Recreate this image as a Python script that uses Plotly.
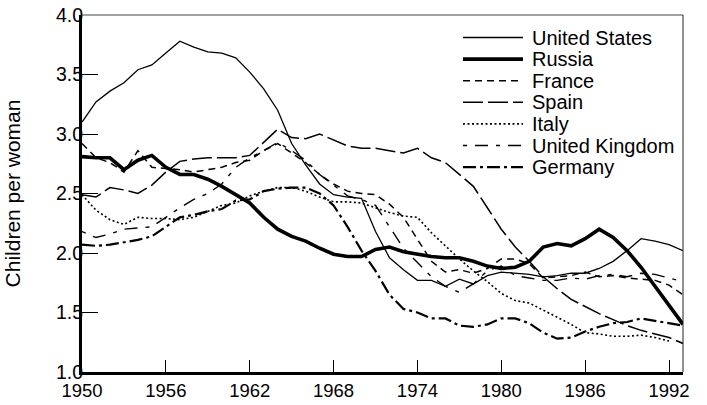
import plotly.graph_objects as go

years = list(range(1950, 1994))

united_states = [3.10, 3.27, 3.36, 3.43, 3.54, 3.58, 3.68, 3.78, 3.73, 3.69,
                 3.68, 3.64, 3.52, 3.38, 3.20, 2.92, 2.74, 2.58, 2.49, 2.47,
                 2.46, 2.18, 1.96, 1.86, 1.77, 1.77, 1.72, 1.78, 1.74, 1.81,
                 1.84, 1.83, 1.82, 1.80, 1.81, 1.83, 1.83, 1.87, 1.93, 2.02,
                 2.12, 2.10, 2.07, 2.02]
russia = [2.81, 2.80, 2.80, 2.70, 2.78, 2.82, 2.72, 2.66, 2.66, 2.62,
          2.56, 2.49, 2.42, 2.30, 2.20, 2.14, 2.10, 2.04, 1.99, 1.97,
          1.97, 2.03, 2.05, 2.01, 1.99, 1.97, 1.96, 1.96, 1.93, 1.89,
          1.87, 1.88, 1.93, 2.05, 2.08, 2.06, 2.12, 2.20, 2.13, 2.02,
          1.88, 1.72, 1.56, 1.40]
france = [2.92, 2.80, 2.76, 2.68, 2.86, 2.72, 2.71, 2.70, 2.68, 2.70,
          2.72, 2.76, 2.78, 2.86, 2.92, 2.84, 2.76, 2.66, 2.58, 2.52,
          2.50, 2.49, 2.41, 2.30, 2.11, 1.93, 1.84, 1.86, 1.83, 1.87,
          1.95, 1.95, 1.91, 1.79, 1.80, 1.81, 1.84, 1.80, 1.81, 1.79,
          1.78, 1.77, 1.73, 1.65]
spain = [2.49, 2.47, 2.55, 2.53, 2.50, 2.57, 2.68, 2.77, 2.79, 2.80,
         2.80, 2.80, 2.82, 2.93, 3.04, 2.97, 2.96, 3.00, 2.95, 2.90,
         2.88, 2.88, 2.86, 2.84, 2.88, 2.80, 2.76, 2.66, 2.56, 2.38,
         2.20, 2.05, 1.93, 1.80, 1.70, 1.61, 1.55, 1.49, 1.44, 1.39,
         1.35, 1.32, 1.29, 1.24]
italy = [2.49, 2.36, 2.28, 2.24, 2.30, 2.29, 2.29, 2.28, 2.30, 2.35,
         2.40, 2.42, 2.48, 2.52, 2.55, 2.55, 2.52, 2.47, 2.43, 2.43,
         2.42, 2.38, 2.34, 2.31, 2.30, 2.17, 2.06, 1.95, 1.85, 1.76,
         1.66, 1.60, 1.58, 1.52, 1.46, 1.40, 1.33, 1.32, 1.30, 1.30,
         1.31, 1.29, 1.26]
united_kingdom = [2.18, 2.13, 2.16, 2.20, 2.21, 2.22, 2.30, 2.38, 2.45, 2.50,
                  2.58, 2.72, 2.80, 2.86, 2.93, 2.86, 2.78, 2.66, 2.57, 2.48,
                  2.45, 2.40, 2.22, 2.04, 1.92, 1.80, 1.72, 1.67, 1.74, 1.85,
                  1.89, 1.81, 1.79, 1.77, 1.77, 1.79, 1.78, 1.81, 1.82, 1.80,
                  1.83, 1.82, 1.79, 1.76]
germany = [2.07, 2.06, 2.07, 2.09, 2.11, 2.14, 2.22, 2.30, 2.32, 2.35,
           2.37, 2.44, 2.45, 2.52, 2.54, 2.55, 2.55, 2.50, 2.40, 2.22,
           2.02, 1.85, 1.65, 1.53, 1.50, 1.45, 1.45, 1.39, 1.38, 1.40,
           1.45, 1.45, 1.41, 1.33, 1.28, 1.29, 1.34, 1.38, 1.41, 1.42,
           1.45, 1.43, 1.41, 1.39]

series_names = ["United States", "Russia", "France", "Spain", "Italy",
                "United Kingdom", "Germany"]
series_values = [united_states, russia, france, spain, italy,
                 united_kingdom, germany]

x_ticks = [1950, 1956, 1962, 1968, 1974, 1980, 1986, 1992]
y_ticks = [1.0, 1.5, 2.0, 2.5, 3.0, 3.5, 4.0]
y_tick_labels = ["1.0", "1.5", "2.0", "2.5", "3.0", "3.5", "4.0"]

line_styles = [
    dict(color="black", width=1.3, dash="solid"),
    dict(color="black", width=3.6, dash="solid"),
    dict(color="black", width=1.5, dash="7px,5px"),
    dict(color="black", width=1.5, dash="20px,5px"),
    dict(color="black", width=1.6, dash="2px,2.5px"),
    dict(color="black", width=1.4, dash="4px,8px,13px,8px"),
    dict(color="black", width=2.2, dash="13px,4px,3px,4px"),
]

W, H = 707, 405
ML, MR, MT, MB = 82, 24, 15, 33
PW, PH = W - ML - MR, H - MT - MB

FONT = "Liberation Sans, Arial, Helvetica, sans-serif"

fig = go.Figure()
for name, vals, style in zip(series_names, series_values, line_styles):
    fig.add_trace(go.Scatter(
        x=years[:len(vals)], y=vals, mode="lines", name=name,
        line=style, hoverinfo="skip", showlegend=False))

# hand-drawn legend (sample lines + labels), laid out in pixel space
legend_x0, legend_x1, legend_text_x = 463, 523, 530
legend_row0, legend_step = 37.5, 21.6
shapes = []
annotations = []
for i, (name, style) in enumerate(zip(series_names, line_styles)):
    py = legend_row0 + i * legend_step
    yp = (H - MB - py) / PH
    shapes.append(dict(
        type="line", xref="paper", yref="paper",
        x0=(legend_x0 - ML) / PW, x1=(legend_x1 - ML) / PW, y0=yp, y1=yp,
        line=dict(color=style["color"], width=style["width"],
                  dash=style["dash"])))
    annotations.append(dict(
        xref="paper", yref="paper", x=(legend_text_x - ML) / PW, y=yp,
        xanchor="left", yanchor="middle", showarrow=False, text=name,
        font=dict(family=FONT, size=20, color="black")))

# thin frame on top and right
shapes.append(dict(type="line", xref="paper", yref="paper", x0=0, x1=1,
                   y0=1, y1=1, line=dict(color="#444", width=1)))
shapes.append(dict(type="line", xref="paper", yref="paper", x0=1, x1=1,
                   y0=0, y1=1, line=dict(color="#222", width=1)))

fig.update_layout(
    template="none",
    width=W, height=H,
    margin=dict(l=ML, r=MR, t=MT, b=MB, pad=0),
    paper_bgcolor="white", plot_bgcolor="white",
    font=dict(family=FONT, size=19, color="black"),
    showlegend=False,
    hovermode=False,
    shapes=shapes,
    annotations=annotations,
)

fig.update_xaxes(
    range=[1950, 1993], tickmode="array", tickvals=x_ticks,
    ticktext=[str(v) for v in x_ticks],
    ticks="inside", ticklen=12, tickwidth=1, tickcolor="black",
    showline=True, linewidth=3, linecolor="black",
    showgrid=False, zeroline=False, automargin=False,
    tickfont=dict(family=FONT, size=18.5, color="black"),
)
fig.update_yaxes(
    range=[1.0, 4.0], tickmode="array", tickvals=y_ticks,
    ticktext=y_tick_labels,
    ticks="inside", ticklen=16, tickwidth=1, tickcolor="black",
    showline=True, linewidth=3, linecolor="black",
    showgrid=False, zeroline=False, automargin=False,
    ticklabelstandoff=-8,
    tickfont=dict(family=FONT, size=19.5, color="black"),
    title=dict(text="Children per woman", standoff=30,
               font=dict(family=FONT, size=21, color="black")),
)

fig.write_html(
    "out.html",
    config={"displayModeBar": False},
    post_script="document.body.style.margin='0px';"
                "document.body.style.padding='0px';",
)
